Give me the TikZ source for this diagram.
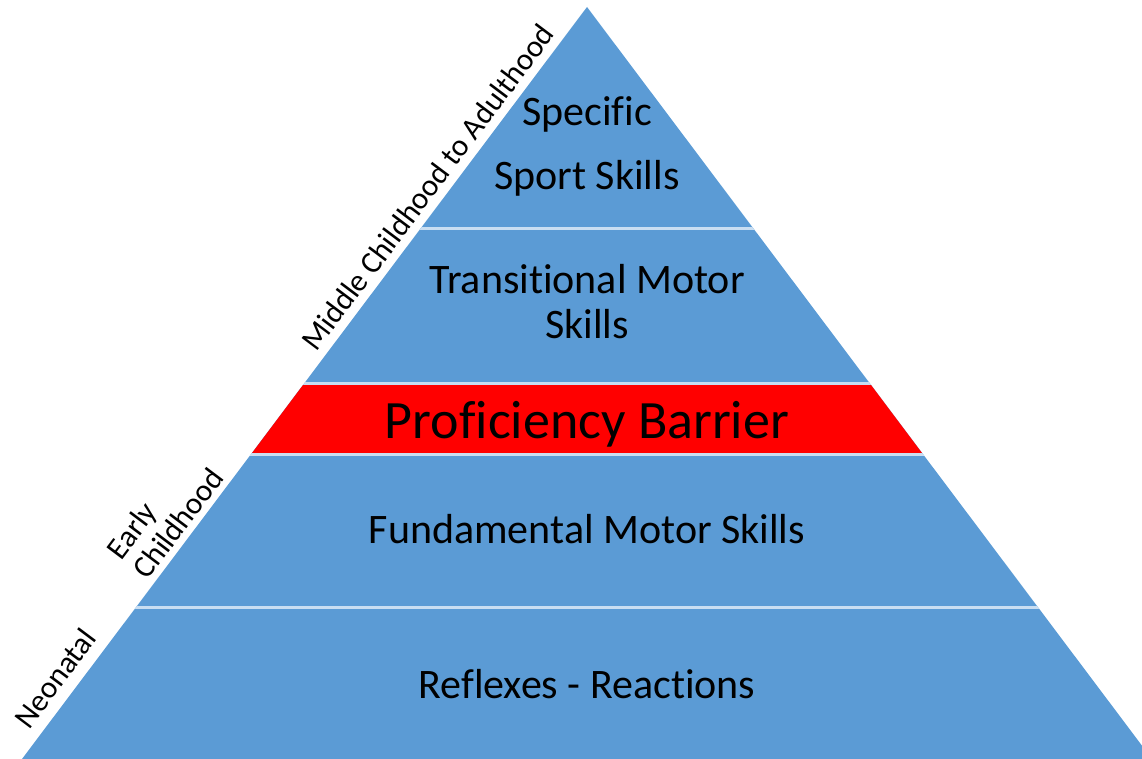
\documentclass[tikz,border=0pt]{standalone}
\usepackage{fontspec}
\setmainfont{Carlito}[Ligatures=NoCommon]
\definecolor{pyrblue}{HTML}{5B9BD5}
\definecolor{sepblue}{HTML}{C9DEF2}
\definecolor{barred}{HTML}{FF0000}
\tikzset{
  layer/.style={font=\fontsize{42}{45}\selectfont, align=center, anchor=base, inner sep=0pt},
  agelabel/.style={font=\fontsize{31}{33}\selectfont, sloped, above, align=left, inner sep=6pt}
}
\begin{document}
\begin{tikzpicture}[x=1pt,y=-1pt]
  \useasboundingbox (0,0) rectangle (1142,759);
  \coordinate (apex) at (587,7);
  \coordinate (baseL) at (22,759);
  \coordinate (baseR) at (1152,759);
  \fill[pyrblue] (apex) -- (baseL) -- (baseR) -- cycle;
  \fill[barred] (303,385) -- (871,385) -- (922,453) -- (252,453) -- cycle;
  \begin{scope}
    \clip (apex) -- (baseL) -- (baseR) -- cycle;
    \draw[sepblue, line width=3pt] (0,228.5) -- (1142,228.5);
    \draw[sepblue, line width=3pt] (0,383.5) -- (1142,383.5);
    \draw[sepblue, line width=3pt] (0,454.5) -- (1142,454.5);
    \draw[sepblue, line width=3pt] (0,607.5) -- (1142,607.5);
  \end{scope}
  \node[layer] (specific) at (587,126) {Specific};
  \node[layer] (sport) at (587,190) {Sport Skills};
  \node[layer] (transitional) at (587,338) {Transitional Motor\\Skills};
  \node[layer, font=\fontsize{54}{58}\selectfont] (barrier) at (587,438) {Proficiency Barrier};
  \node[layer] (fundamental) at (587,543) {Fundamental Motor Skills};
  \node[layer] (reflexes) at (587,698) {Reflexes - Reactions};
  \path (baseL) -- (apex)
    node[agelabel, pos=0.09, inner sep=11pt] (neonatal) {Neonatal}
    node[agelabel, pos=0.30] (early) {Early\\Childhood}
    node[agelabel, pos=0.745, inner sep=8pt] (middle) {Middle Childhood to Adulthood};
\end{tikzpicture}
\end{document}
